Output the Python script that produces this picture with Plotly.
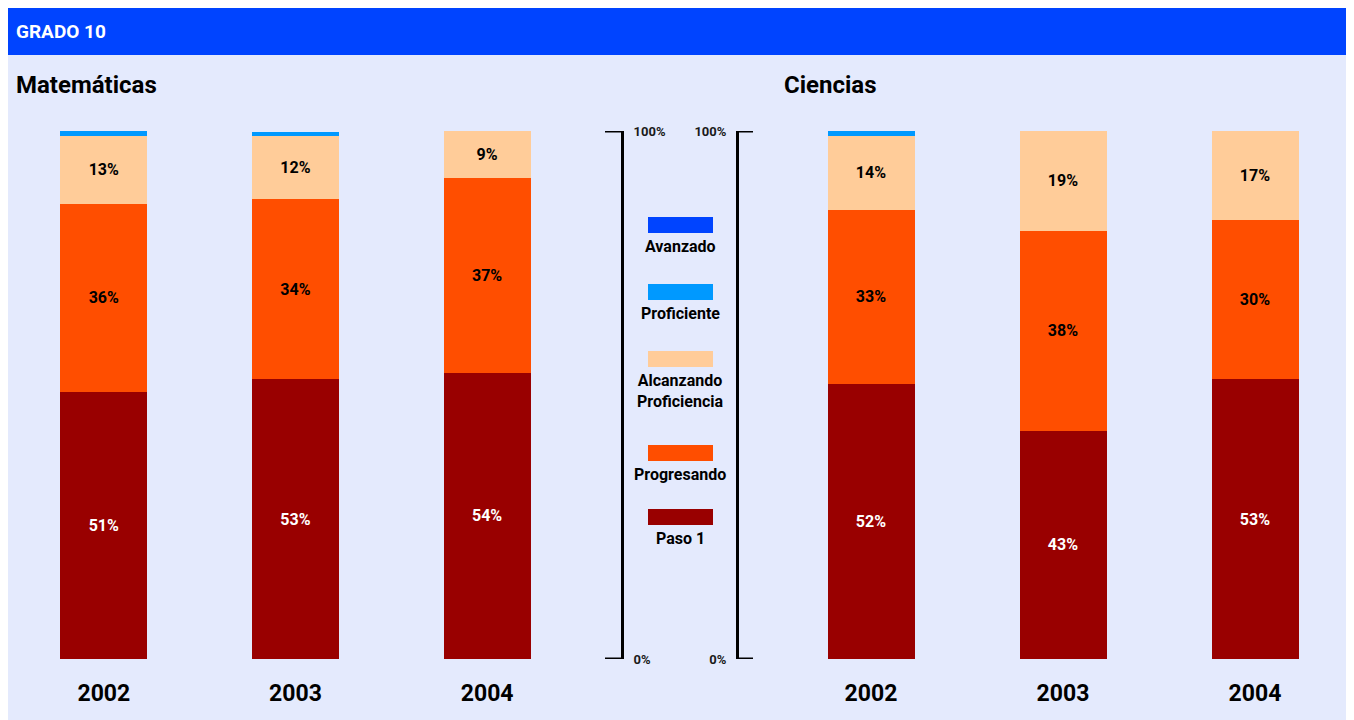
import plotly.graph_objects as go

W, H = 1354, 720
OX, OY = 8, 8  # page body margin offset of the rendered figure

years = ["2002", "2003", "2004"]
series = ["Paso 1", "Progresando", "Alcanzando Proficiencia", "Proficiente", "Avanzado"]
legend_labels = ["Avanzado", "Proficiente", "Alcanzando<br>Proficiencia", "Progresando", "Paso 1"]
colors = {"Paso 1": "#990000", "Progresando": "#FF4E00", "Alcanzando Proficiencia": "#FFCC99",
          "Proficiente": "#0099FF", "Avanzado": "#0044FF"}
text_colors = {"Paso 1": "white", "Progresando": "black", "Alcanzando Proficiencia": "black",
               "Proficiente": "black", "Avanzado": "black"}

mat_paso1 = [50.6, 53.0, 54.2]
mat_progresando = [35.6, 34.1, 36.9]
mat_alcanzando = [12.9, 11.9, 8.9]
mat_proficiente = [0.9, 0.9, 0.0]
mat_avanzado = [0.0, 0.0, 0.0]

cie_paso1 = [52.1, 43.2, 53.0]
cie_progresando = [33.0, 37.9, 30.1]
cie_alcanzando = [14.0, 18.9, 16.9]
cie_proficiente = [0.9, 0.0, 0.0]
cie_avanzado = [0.0, 0.0, 0.0]

mat = [mat_paso1, mat_progresando, mat_alcanzando, mat_proficiente, mat_avanzado]
cie = [cie_paso1, cie_progresando, cie_alcanzando, cie_proficiente, cie_avanzado]

FONT = "Roboto, Lato, DejaVu Sans, sans-serif"


def px_x(x):
    return max(0.0, (x - OX) / W)


def px_y(y):
    return min(1.0, 1 - (y - OY) / H)


fig = go.Figure()

for data, xa, ya in [(mat, "x", "y"), (cie, "x2", "y2")]:
    for name, vals in zip(series, data):
        show_text = name in ("Paso 1", "Progresando", "Alcanzando Proficiencia")
        fig.add_trace(go.Bar(
            x=years, y=vals, name=name, xaxis=xa, yaxis=ya,
            marker=dict(color=colors[name], line=dict(width=0)),
            text=[f"{round(v)}%" for v in vals] if show_text else None,
            textposition="inside" if show_text else "none",
            insidetextanchor="middle", textangle=0,
            textfont=dict(family=FONT, size=16, weight="bold", color=text_colors[name]),
            showlegend=False, hoverinfo="skip",
        ))

ydom = [px_y(659), px_y(131)]
axis_common = dict(range=[0, 100], domain=ydom, showgrid=False, zeroline=False,
                   showline=True, linecolor="black", linewidth=3,
                   ticks="", automargin=False, ticklabelstandoff=7,
                   tickvals=[0, 100], ticktext=["0%", "100%"],
                   tickfont=dict(family=FONT, size=13, weight="bold", color="#1a1a1a"),
                   anchor="free", fixedrange=True)

xcommon = dict(type="category", showgrid=False, zeroline=False, showline=False, ticks="",
               tickfont=dict(family=FONT, size=23, weight="bold", color="black"), anchor="y",
               ticklabelstandoff=18, fixedrange=True, automargin=False)

fig.update_layout(
    width=W, height=H,
    margin=dict(l=0, r=0, t=0, b=0, pad=0, autoexpand=False),
    paper_bgcolor="white", plot_bgcolor="rgba(0,0,0,0)",
    barmode="stack", bargap=1 - 87 / 192,
    xaxis=dict(domain=[px_x(7), px_x(583)], **xcommon),
    xaxis2=dict(domain=[px_x(775), px_x(1351)], **{**xcommon, "anchor": "y2"}),
    yaxis=dict(side="right", position=px_x(622), **axis_common),
    yaxis2=dict(side="left", position=px_x(737), **axis_common),
    font=dict(family=FONT),
)

shapes = [
    dict(type="rect", xref="paper", yref="paper", x0=px_x(7), x1=px_x(1352), y0=0, y1=px_y(55),
         fillcolor="#E4EAFD", line=dict(width=0), layer="below"),
    dict(type="rect", xref="paper", yref="paper", x0=px_x(7), x1=px_x(1352), y0=px_y(55), y1=px_y(5),
         fillcolor="#0044FF", line=dict(width=0), layer="below"),
]

# bracket ends of the two middle axes
for yref, x_line, x_end in [("y", 622, 605), ("y2", 737, 753)]:
    for v in (0, 100):
        shapes.append(dict(type="line", xref="paper", yref=yref, x0=px_x(x_line), x1=px_x(x_end),
                           y0=v, y1=v, line=dict(color="black", width=3)))

annotations = [
    dict(text="GRADO 10", x=px_x(14), y=px_y(31), xref="paper", yref="paper",
         xanchor="left", yanchor="middle", showarrow=False,
         font=dict(family=FONT, size=19, weight="bold", color="white")),
    dict(text="Matemáticas", x=px_x(14), y=px_y(85), xref="paper", yref="paper",
         xanchor="left", yanchor="middle", showarrow=False,
         font=dict(family=FONT, size=24, weight="bold", color="black")),
    dict(text="Ciencias", x=px_x(782), y=px_y(85), xref="paper", yref="paper",
         xanchor="left", yanchor="middle", showarrow=False,
         font=dict(family=FONT, size=24, weight="bold", color="black")),
]

legend_colors = [colors["Avanzado"], colors["Proficiente"], colors["Alcanzando Proficiencia"],
                 colors["Progresando"], colors["Paso 1"]]
rect_centers = [225, 292, 359, 453, 517]
for lab, col, cy in zip(legend_labels, legend_colors, rect_centers):
    shapes.append(dict(type="rect", xref="paper", yref="paper", x0=px_x(648), x1=px_x(713),
                       y0=px_y(cy + 8), y1=px_y(cy - 8), fillcolor=col, line=dict(width=0)))
    annotations.append(dict(text=lab, x=px_x(680), y=px_y(cy + 10), xref="paper", yref="paper",
                            xanchor="center", yanchor="top", showarrow=False, align="center",
                            font=dict(family=FONT, size=16, weight="bold", color="black")))

fig.update_layout(shapes=shapes, annotations=annotations)
fig.write_html("out.html")
